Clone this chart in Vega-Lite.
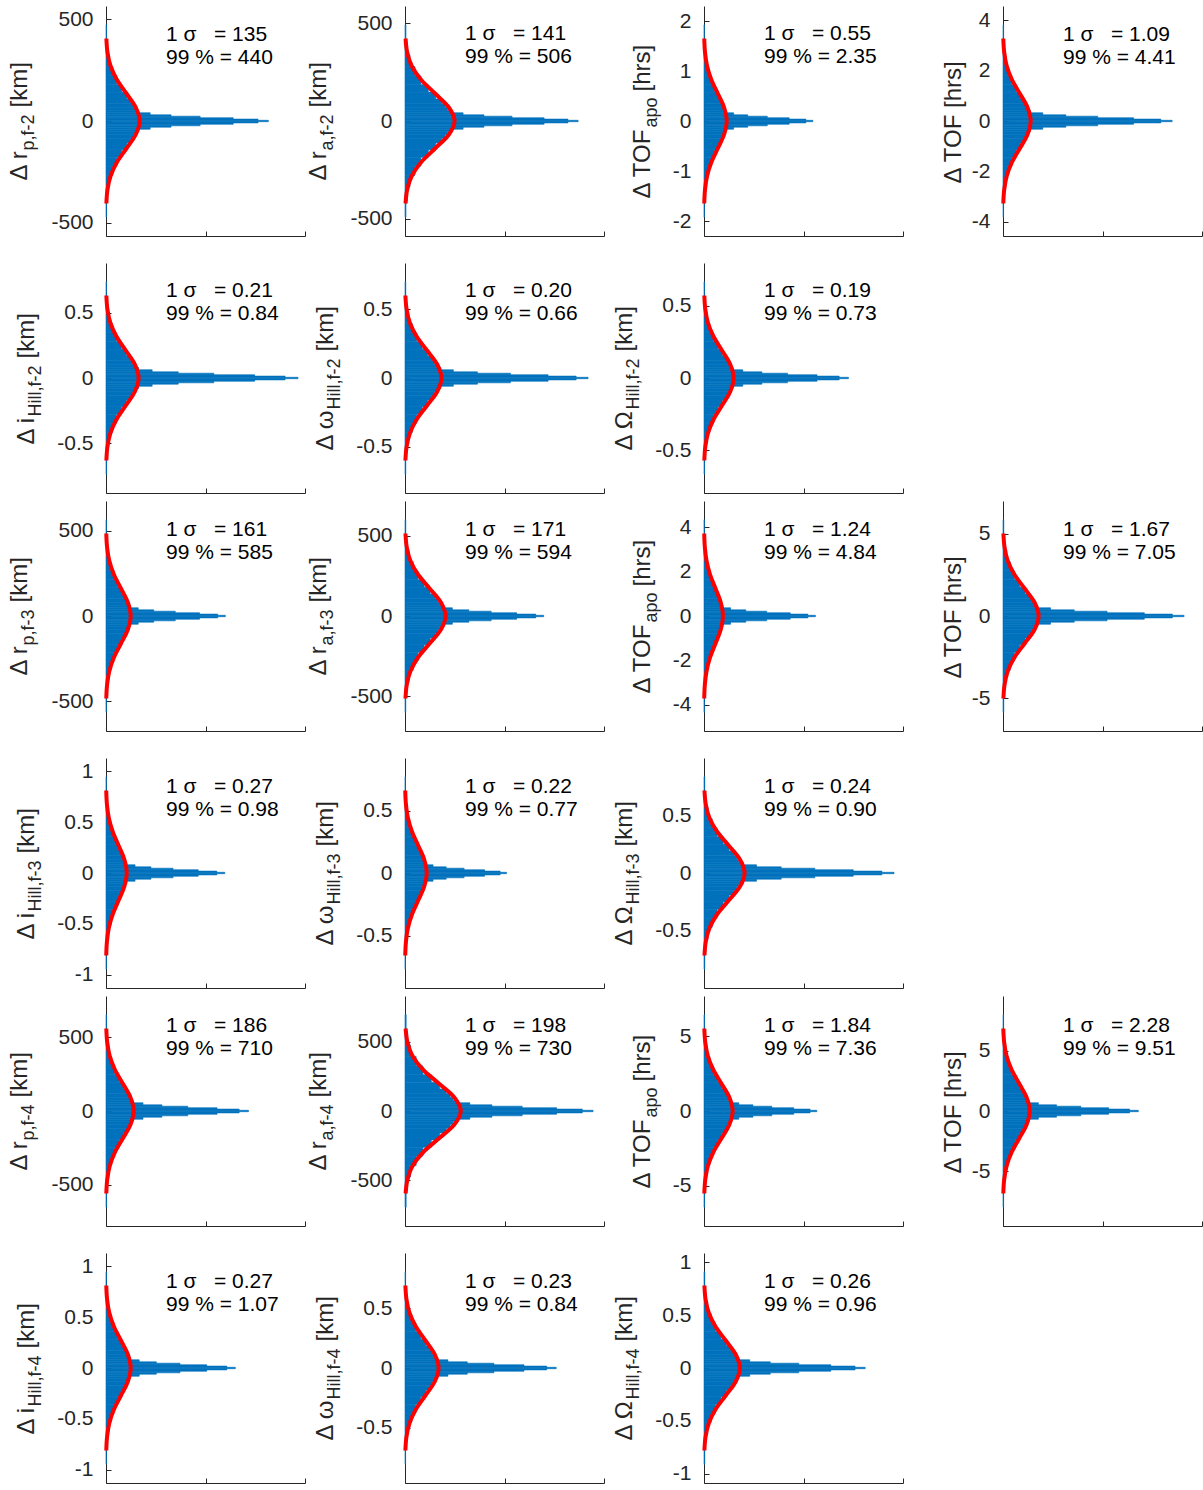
{
"$schema": "https://vega.github.io/schema/vega-lite/v6.json",
"padding": {"left": 6, "top": 6, "right": 0, "bottom": 0},
"bounds": "flush",
"columns": 4,
"spacing": {"row": 8, "column": 100},
"concat": [
{"width": 199, "height": 230, "title": {"text": ["1 σ\u00a0\u00a0\u00a0= 135", "99 % = 440"], "offset": -62},
 "layer": [
  {"data": {"name": "h"}, "transform": [{"filter": "datum.p==1"}], "mark": {"type": "bar", "orient": "horizontal"},
   "encoding": {"x": {"field": "v", "type": "quantitative", "stack": null, "scale": {"domain": [0, 100], "nice": false}, "axis": null},
    "y": {"field": "y", "type": "quantitative", "scale": {"domain": [-540, 540], "nice": false, "zero": false}, "axis": {"values": [-500, 0, 500], "labelExpr": "toString(datum.value)", "title": "Δ r", "titleX": -80, "titleY": 174}}, "y2": {"field": "y2"}}},
  {"data": {"name": "g"}, "transform": [{"filter": "datum.p==1"}], "mark": "line",
   "encoding": {"x": {"field": "v", "type": "quantitative", "scale": {"domain": [0, 100], "nice": false}, "axis": {"title": "[km]", "titleX": -80, "titleY": -129}},
    "y": {"field": "y", "type": "quantitative", "scale": {"domain": [-540, 540], "nice": false, "zero": false}, "axis": {"orient": "right", "title": "p,f-2", "titleX": -272, "titleY": 144}},
    "order": {"field": "y", "type": "quantitative"}}}],
 "resolve": {"axis": {"x": "independent", "y": "independent"}}},
{"width": 199, "height": 230, "title": {"text": ["1 σ\u00a0\u00a0\u00a0= 141", "99 % = 506"], "offset": -61},
 "layer": [
  {"data": {"name": "h"}, "transform": [{"filter": "datum.p==2"}], "mark": {"type": "bar", "orient": "horizontal"},
   "encoding": {"x": {"field": "v", "type": "quantitative", "stack": null, "scale": {"domain": [0, 100], "nice": false}, "axis": null},
    "y": {"field": "y", "type": "quantitative", "scale": {"domain": [-564, 564], "nice": false, "zero": false}, "axis": {"values": [-500, 0, 500], "labelExpr": "toString(datum.value)", "title": "Δ r", "titleX": -80, "titleY": 174}}, "y2": {"field": "y2"}}},
  {"data": {"name": "g"}, "transform": [{"filter": "datum.p==2"}], "mark": "line",
   "encoding": {"x": {"field": "v", "type": "quantitative", "scale": {"domain": [0, 100], "nice": false}, "axis": {"title": "[km]", "titleX": -80, "titleY": -129}},
    "y": {"field": "y", "type": "quantitative", "scale": {"domain": [-564, 564], "nice": false, "zero": false}, "axis": {"orient": "right", "title": "a,f-2", "titleX": -272, "titleY": 144}},
    "order": {"field": "y", "type": "quantitative"}}}],
 "resolve": {"axis": {"x": "independent", "y": "independent"}}},
{"width": 199, "height": 230, "title": {"text": ["1 σ\u00a0\u00a0\u00a0= 0.55", "99 % = 2.35"], "offset": -61},
 "layer": [
  {"data": {"name": "h"}, "transform": [{"filter": "datum.p==3"}], "mark": {"type": "bar", "orient": "horizontal"},
   "encoding": {"x": {"field": "v", "type": "quantitative", "stack": null, "scale": {"domain": [0, 100], "nice": false}, "axis": null},
    "y": {"field": "y", "type": "quantitative", "scale": {"domain": [-2.2, 2.2], "nice": false, "zero": false}, "axis": {"values": [-2, -1, 0, 1, 2], "labelExpr": "toString(datum.value)", "title": "Δ TOF", "titleX": -55, "titleY": 192}}, "y2": {"field": "y2"}}},
  {"data": {"name": "g"}, "transform": [{"filter": "datum.p==3"}], "mark": "line",
   "encoding": {"x": {"field": "v", "type": "quantitative", "scale": {"domain": [0, 100], "nice": false}, "axis": {"title": "[hrs]", "titleX": -55, "titleY": -145}},
    "y": {"field": "y", "type": "quantitative", "scale": {"domain": [-2.2, 2.2], "nice": false, "zero": false}, "axis": {"orient": "right", "title": "apo", "titleX": -247, "titleY": 121}},
    "order": {"field": "y", "type": "quantitative"}}}],
 "resolve": {"axis": {"x": "independent", "y": "independent"}}},
{"width": 199, "height": 230, "title": {"text": ["1 σ\u00a0\u00a0\u00a0= 1.09", "99 % = 4.41"], "offset": -62},
 "layer": [
  {"data": {"name": "h"}, "transform": [{"filter": "datum.p==4"}], "mark": {"type": "bar", "orient": "horizontal"},
   "encoding": {"x": {"field": "v", "type": "quantitative", "stack": null, "scale": {"domain": [0, 100], "nice": false}, "axis": null},
    "y": {"field": "y", "type": "quantitative", "scale": {"domain": [-4.36, 4.36], "nice": false, "zero": false}, "axis": {"values": [-4, -2, 0, 2, 4], "labelExpr": "toString(datum.value)", "title": "Δ TOF [hrs]", "titleX": -43, "titleY": 177}}, "y2": {"field": "y2"}}},
  {"data": {"name": "g"}, "transform": [{"filter": "datum.p==4"}], "mark": "line",
   "encoding": {"x": {"field": "v", "type": "quantitative", "scale": {"domain": [0, 100], "nice": false}, "axis": {"title": null}},
    "y": {"field": "y", "type": "quantitative", "scale": {"domain": [-4.36, 4.36], "nice": false, "zero": false}, "axis": {"orient": "right", "title": null}},
    "order": {"field": "y", "type": "quantitative"}}}],
 "resolve": {"axis": {"x": "independent", "y": "independent"}}},

{"width": 199, "height": 249, "title": {"text": ["1 σ\u00a0\u00a0\u00a0= 0.21", "99 % = 0.84"], "offset": -80},
 "layer": [
  {"data": {"name": "h"}, "transform": [{"filter": "datum.p==5"}], "mark": {"type": "bar", "orient": "horizontal"},
   "encoding": {"x": {"field": "v", "type": "quantitative", "stack": null, "scale": {"domain": [0, 100], "nice": false}, "axis": null},
    "y": {"field": "y", "type": "quantitative", "scale": {"domain": [-0.84, 0.84], "range": [249, 19], "nice": false, "zero": false}, "axis": {"values": [-0.5, 0, 0.5], "labelExpr": "toString(datum.value)", "title": "Δ i", "titleX": -73, "titleY": 200}}, "y2": {"field": "y2"}}},
  {"data": {"name": "g"}, "transform": [{"filter": "datum.p==5"}], "mark": "line",
   "encoding": {"x": {"field": "v", "type": "quantitative", "scale": {"domain": [0, 100], "nice": false}, "axis": {"title": "[km]", "titleX": -73, "titleY": -135}},
    "y": {"field": "y", "type": "quantitative", "scale": {"domain": [-0.84, 0.84], "range": [249, 19], "nice": false, "zero": false}, "axis": {"orient": "right", "title": "Hill,f-2", "titleX": -265, "titleY": 172}},
    "order": {"field": "y", "type": "quantitative"}}}],
 "resolve": {"axis": {"x": "independent", "y": "independent"}}},
{"width": 199, "height": 249, "title": {"text": ["1 σ\u00a0\u00a0\u00a0= 0.20", "99 % = 0.66"], "offset": -80},
 "layer": [
  {"data": {"name": "h"}, "transform": [{"filter": "datum.p==6"}], "mark": {"type": "bar", "orient": "horizontal"},
   "encoding": {"x": {"field": "v", "type": "quantitative", "stack": null, "scale": {"domain": [0, 100], "nice": false}, "axis": null},
    "y": {"field": "y", "type": "quantitative", "scale": {"domain": [-0.8, 0.8], "range": [249, 19], "nice": false, "zero": false}, "axis": {"values": [-0.5, 0, 0.5], "labelExpr": "toString(datum.value)", "title": "Δ ω", "titleX": -73, "titleY": 206}}, "y2": {"field": "y2"}}},
  {"data": {"name": "g"}, "transform": [{"filter": "datum.p==6"}], "mark": "line",
   "encoding": {"x": {"field": "v", "type": "quantitative", "scale": {"domain": [0, 100], "nice": false}, "axis": {"title": "[km]", "titleX": -73, "titleY": -142}},
    "y": {"field": "y", "type": "quantitative", "scale": {"domain": [-0.8, 0.8], "range": [249, 19], "nice": false, "zero": false}, "axis": {"orient": "right", "title": "Hill,f-2", "titleX": -265, "titleY": 165}},
    "order": {"field": "y", "type": "quantitative"}}}],
 "resolve": {"axis": {"x": "independent", "y": "independent"}}},
{"width": 199, "height": 249, "title": {"text": ["1 σ\u00a0\u00a0\u00a0= 0.19", "99 % = 0.73"], "offset": -80},
 "layer": [
  {"data": {"name": "h"}, "transform": [{"filter": "datum.p==7"}], "mark": {"type": "bar", "orient": "horizontal"},
   "encoding": {"x": {"field": "v", "type": "quantitative", "stack": null, "scale": {"domain": [0, 100], "nice": false}, "axis": null},
    "y": {"field": "y", "type": "quantitative", "scale": {"domain": [-0.76, 0.76], "range": [249, 19], "nice": false, "zero": false}, "axis": {"values": [-0.5, 0, 0.5], "labelExpr": "toString(datum.value)", "title": "Δ Ω", "titleX": -73, "titleY": 206}}, "y2": {"field": "y2"}}},
  {"data": {"name": "g"}, "transform": [{"filter": "datum.p==7"}], "mark": "line",
   "encoding": {"x": {"field": "v", "type": "quantitative", "scale": {"domain": [0, 100], "nice": false}, "axis": {"title": "[km]", "titleX": -73, "titleY": -142}},
    "y": {"field": "y", "type": "quantitative", "scale": {"domain": [-0.76, 0.76], "range": [249, 19], "nice": false, "zero": false}, "axis": {"orient": "right", "title": "Hill,f-2", "titleX": -265, "titleY": 165}},
    "order": {"field": "y", "type": "quantitative"}}}],
 "resolve": {"axis": {"x": "independent", "y": "independent"}}},
{"width": 199, "height": 249, "data": {"values": []}, "mark": {"type": "point", "opacity": 0}},

{"width": 199, "height": 230, "title": {"text": ["1 σ\u00a0\u00a0\u00a0= 161", "99 % = 585"], "offset": -62},
 "layer": [
  {"data": {"name": "h"}, "transform": [{"filter": "datum.p==8"}], "mark": {"type": "bar", "orient": "horizontal"},
   "encoding": {"x": {"field": "v", "type": "quantitative", "stack": null, "scale": {"domain": [0, 100], "nice": false}, "axis": null},
    "y": {"field": "y", "type": "quantitative", "scale": {"domain": [-644, 644], "nice": false, "zero": false}, "axis": {"values": [-500, 0, 500], "labelExpr": "toString(datum.value)", "title": "Δ r", "titleX": -80, "titleY": 174}}, "y2": {"field": "y2"}}},
  {"data": {"name": "g"}, "transform": [{"filter": "datum.p==8"}], "mark": "line",
   "encoding": {"x": {"field": "v", "type": "quantitative", "scale": {"domain": [0, 100], "nice": false}, "axis": {"title": "[km]", "titleX": -80, "titleY": -129}},
    "y": {"field": "y", "type": "quantitative", "scale": {"domain": [-644, 644], "nice": false, "zero": false}, "axis": {"orient": "right", "title": "p,f-3", "titleX": -272, "titleY": 144}},
    "order": {"field": "y", "type": "quantitative"}}}],
 "resolve": {"axis": {"x": "independent", "y": "independent"}}},
{"width": 199, "height": 230, "title": {"text": ["1 σ\u00a0\u00a0\u00a0= 171", "99 % = 594"], "offset": -62},
 "layer": [
  {"data": {"name": "h"}, "transform": [{"filter": "datum.p==9"}], "mark": {"type": "bar", "orient": "horizontal"},
   "encoding": {"x": {"field": "v", "type": "quantitative", "stack": null, "scale": {"domain": [0, 100], "nice": false}, "axis": null},
    "y": {"field": "y", "type": "quantitative", "scale": {"domain": [-684, 684], "nice": false, "zero": false}, "axis": {"values": [-500, 0, 500], "labelExpr": "toString(datum.value)", "title": "Δ r", "titleX": -80, "titleY": 174}}, "y2": {"field": "y2"}}},
  {"data": {"name": "g"}, "transform": [{"filter": "datum.p==9"}], "mark": "line",
   "encoding": {"x": {"field": "v", "type": "quantitative", "scale": {"domain": [0, 100], "nice": false}, "axis": {"title": "[km]", "titleX": -80, "titleY": -129}},
    "y": {"field": "y", "type": "quantitative", "scale": {"domain": [-684, 684], "nice": false, "zero": false}, "axis": {"orient": "right", "title": "a,f-3", "titleX": -272, "titleY": 144}},
    "order": {"field": "y", "type": "quantitative"}}}],
 "resolve": {"axis": {"x": "independent", "y": "independent"}}},
{"width": 199, "height": 230, "title": {"text": ["1 σ\u00a0\u00a0\u00a0= 1.24", "99 % = 4.84"], "offset": -62},
 "layer": [
  {"data": {"name": "h"}, "transform": [{"filter": "datum.p==10"}], "mark": {"type": "bar", "orient": "horizontal"},
   "encoding": {"x": {"field": "v", "type": "quantitative", "stack": null, "scale": {"domain": [0, 100], "nice": false}, "axis": null},
    "y": {"field": "y", "type": "quantitative", "scale": {"domain": [-4.96, 4.96], "nice": false, "zero": false}, "axis": {"values": [-4, -2, 0, 2, 4], "labelExpr": "toString(datum.value)", "title": "Δ TOF", "titleX": -55, "titleY": 192}}, "y2": {"field": "y2"}}},
  {"data": {"name": "g"}, "transform": [{"filter": "datum.p==10"}], "mark": "line",
   "encoding": {"x": {"field": "v", "type": "quantitative", "scale": {"domain": [0, 100], "nice": false}, "axis": {"title": "[hrs]", "titleX": -55, "titleY": -145}},
    "y": {"field": "y", "type": "quantitative", "scale": {"domain": [-4.96, 4.96], "nice": false, "zero": false}, "axis": {"orient": "right", "title": "apo", "titleX": -247, "titleY": 121}},
    "order": {"field": "y", "type": "quantitative"}}}],
 "resolve": {"axis": {"x": "independent", "y": "independent"}}},
{"width": 199, "height": 230, "title": {"text": ["1 σ\u00a0\u00a0\u00a0= 1.67", "99 % = 7.05"], "offset": -62},
 "layer": [
  {"data": {"name": "h"}, "transform": [{"filter": "datum.p==11"}], "mark": {"type": "bar", "orient": "horizontal"},
   "encoding": {"x": {"field": "v", "type": "quantitative", "stack": null, "scale": {"domain": [0, 100], "nice": false}, "axis": null},
    "y": {"field": "y", "type": "quantitative", "scale": {"domain": [-6.68, 6.68], "nice": false, "zero": false}, "axis": {"values": [-5, 0, 5], "labelExpr": "toString(datum.value)", "title": "Δ TOF [hrs]", "titleX": -43, "titleY": 177}}, "y2": {"field": "y2"}}},
  {"data": {"name": "g"}, "transform": [{"filter": "datum.p==11"}], "mark": "line",
   "encoding": {"x": {"field": "v", "type": "quantitative", "scale": {"domain": [0, 100], "nice": false}, "axis": {"title": null}},
    "y": {"field": "y", "type": "quantitative", "scale": {"domain": [-6.68, 6.68], "nice": false, "zero": false}, "axis": {"orient": "right", "title": null}},
    "order": {"field": "y", "type": "quantitative"}}}],
 "resolve": {"axis": {"x": "independent", "y": "independent"}}},

{"width": 199, "height": 249, "title": {"text": ["1 σ\u00a0\u00a0\u00a0= 0.27", "99 % = 0.98"], "offset": -81},
 "layer": [
  {"data": {"name": "h"}, "transform": [{"filter": "datum.p==12"}], "mark": {"type": "bar", "orient": "horizontal"},
   "encoding": {"x": {"field": "v", "type": "quantitative", "stack": null, "scale": {"domain": [0, 100], "nice": false}, "axis": null},
    "y": {"field": "y", "type": "quantitative", "scale": {"domain": [-1.08, 1.08], "range": [249, 19], "nice": false, "zero": false}, "axis": {"values": [-1, -0.5, 0, 0.5, 1], "labelExpr": "toString(datum.value)", "title": "Δ i", "titleX": -73, "titleY": 200}}, "y2": {"field": "y2"}}},
  {"data": {"name": "g"}, "transform": [{"filter": "datum.p==12"}], "mark": "line",
   "encoding": {"x": {"field": "v", "type": "quantitative", "scale": {"domain": [0, 100], "nice": false}, "axis": {"title": "[km]", "titleX": -73, "titleY": -135}},
    "y": {"field": "y", "type": "quantitative", "scale": {"domain": [-1.08, 1.08], "range": [249, 19], "nice": false, "zero": false}, "axis": {"orient": "right", "title": "Hill,f-3", "titleX": -265, "titleY": 172}},
    "order": {"field": "y", "type": "quantitative"}}}],
 "resolve": {"axis": {"x": "independent", "y": "independent"}}},
{"width": 199, "height": 249, "title": {"text": ["1 σ\u00a0\u00a0\u00a0= 0.22", "99 % = 0.77"], "offset": -81},
 "layer": [
  {"data": {"name": "h"}, "transform": [{"filter": "datum.p==13"}], "mark": {"type": "bar", "orient": "horizontal"},
   "encoding": {"x": {"field": "v", "type": "quantitative", "stack": null, "scale": {"domain": [0, 100], "nice": false}, "axis": null},
    "y": {"field": "y", "type": "quantitative", "scale": {"domain": [-0.88, 0.88], "range": [249, 19], "nice": false, "zero": false}, "axis": {"values": [-0.5, 0, 0.5], "labelExpr": "toString(datum.value)", "title": "Δ ω", "titleX": -73, "titleY": 206}}, "y2": {"field": "y2"}}},
  {"data": {"name": "g"}, "transform": [{"filter": "datum.p==13"}], "mark": "line",
   "encoding": {"x": {"field": "v", "type": "quantitative", "scale": {"domain": [0, 100], "nice": false}, "axis": {"title": "[km]", "titleX": -73, "titleY": -142}},
    "y": {"field": "y", "type": "quantitative", "scale": {"domain": [-0.88, 0.88], "range": [249, 19], "nice": false, "zero": false}, "axis": {"orient": "right", "title": "Hill,f-3", "titleX": -265, "titleY": 165}},
    "order": {"field": "y", "type": "quantitative"}}}],
 "resolve": {"axis": {"x": "independent", "y": "independent"}}},
{"width": 199, "height": 249, "title": {"text": ["1 σ\u00a0\u00a0\u00a0= 0.24", "99 % = 0.90"], "offset": -81},
 "layer": [
  {"data": {"name": "h"}, "transform": [{"filter": "datum.p==14"}], "mark": {"type": "bar", "orient": "horizontal"},
   "encoding": {"x": {"field": "v", "type": "quantitative", "stack": null, "scale": {"domain": [0, 100], "nice": false}, "axis": null},
    "y": {"field": "y", "type": "quantitative", "scale": {"domain": [-0.96, 0.96], "range": [249, 19], "nice": false, "zero": false}, "axis": {"values": [-0.5, 0, 0.5], "labelExpr": "toString(datum.value)", "title": "Δ Ω", "titleX": -73, "titleY": 206}}, "y2": {"field": "y2"}}},
  {"data": {"name": "g"}, "transform": [{"filter": "datum.p==14"}], "mark": "line",
   "encoding": {"x": {"field": "v", "type": "quantitative", "scale": {"domain": [0, 100], "nice": false}, "axis": {"title": "[km]", "titleX": -73, "titleY": -142}},
    "y": {"field": "y", "type": "quantitative", "scale": {"domain": [-0.96, 0.96], "range": [249, 19], "nice": false, "zero": false}, "axis": {"orient": "right", "title": "Hill,f-3", "titleX": -265, "titleY": 165}},
    "order": {"field": "y", "type": "quantitative"}}}],
 "resolve": {"axis": {"x": "independent", "y": "independent"}}},
{"width": 199, "height": 249, "data": {"values": []}, "mark": {"type": "point", "opacity": 0}},

{"width": 199, "height": 230, "title": {"text": ["1 σ\u00a0\u00a0\u00a0= 186", "99 % = 710"], "offset": -63},
 "layer": [
  {"data": {"name": "h"}, "transform": [{"filter": "datum.p==15"}], "mark": {"type": "bar", "orient": "horizontal"},
   "encoding": {"x": {"field": "v", "type": "quantitative", "stack": null, "scale": {"domain": [0, 100], "nice": false}, "axis": null},
    "y": {"field": "y", "type": "quantitative", "scale": {"domain": [-744, 744], "nice": false, "zero": false}, "axis": {"values": [-500, 0, 500], "labelExpr": "toString(datum.value)", "title": "Δ r", "titleX": -80, "titleY": 174}}, "y2": {"field": "y2"}}},
  {"data": {"name": "g"}, "transform": [{"filter": "datum.p==15"}], "mark": "line",
   "encoding": {"x": {"field": "v", "type": "quantitative", "scale": {"domain": [0, 100], "nice": false}, "axis": {"title": "[km]", "titleX": -80, "titleY": -129}},
    "y": {"field": "y", "type": "quantitative", "scale": {"domain": [-744, 744], "nice": false, "zero": false}, "axis": {"orient": "right", "title": "p,f-4", "titleX": -272, "titleY": 144}},
    "order": {"field": "y", "type": "quantitative"}}}],
 "resolve": {"axis": {"x": "independent", "y": "independent"}}},
{"width": 199, "height": 230, "title": {"text": ["1 σ\u00a0\u00a0\u00a0= 198", "99 % = 730"], "offset": -63},
 "layer": [
  {"data": {"name": "h"}, "transform": [{"filter": "datum.p==16"}], "mark": {"type": "bar", "orient": "horizontal"},
   "encoding": {"x": {"field": "v", "type": "quantitative", "stack": null, "scale": {"domain": [0, 100], "nice": false}, "axis": null},
    "y": {"field": "y", "type": "quantitative", "scale": {"domain": [-792, 792], "nice": false, "zero": false}, "axis": {"values": [-500, 0, 500], "labelExpr": "toString(datum.value)", "title": "Δ r", "titleX": -80, "titleY": 174}}, "y2": {"field": "y2"}}},
  {"data": {"name": "g"}, "transform": [{"filter": "datum.p==16"}], "mark": "line",
   "encoding": {"x": {"field": "v", "type": "quantitative", "scale": {"domain": [0, 100], "nice": false}, "axis": {"title": "[km]", "titleX": -80, "titleY": -129}},
    "y": {"field": "y", "type": "quantitative", "scale": {"domain": [-792, 792], "nice": false, "zero": false}, "axis": {"orient": "right", "title": "a,f-4", "titleX": -272, "titleY": 144}},
    "order": {"field": "y", "type": "quantitative"}}}],
 "resolve": {"axis": {"x": "independent", "y": "independent"}}},
{"width": 199, "height": 230, "title": {"text": ["1 σ\u00a0\u00a0\u00a0= 1.84", "99 % = 7.36"], "offset": -63},
 "layer": [
  {"data": {"name": "h"}, "transform": [{"filter": "datum.p==17"}], "mark": {"type": "bar", "orient": "horizontal"},
   "encoding": {"x": {"field": "v", "type": "quantitative", "stack": null, "scale": {"domain": [0, 100], "nice": false}, "axis": null},
    "y": {"field": "y", "type": "quantitative", "scale": {"domain": [-7.36, 7.36], "nice": false, "zero": false}, "axis": {"values": [-5, 0, 5], "labelExpr": "toString(datum.value)", "title": "Δ TOF", "titleX": -55, "titleY": 192}}, "y2": {"field": "y2"}}},
  {"data": {"name": "g"}, "transform": [{"filter": "datum.p==17"}], "mark": "line",
   "encoding": {"x": {"field": "v", "type": "quantitative", "scale": {"domain": [0, 100], "nice": false}, "axis": {"title": "[hrs]", "titleX": -55, "titleY": -145}},
    "y": {"field": "y", "type": "quantitative", "scale": {"domain": [-7.36, 7.36], "nice": false, "zero": false}, "axis": {"orient": "right", "title": "apo", "titleX": -247, "titleY": 121}},
    "order": {"field": "y", "type": "quantitative"}}}],
 "resolve": {"axis": {"x": "independent", "y": "independent"}}},
{"width": 199, "height": 230, "title": {"text": ["1 σ\u00a0\u00a0\u00a0= 2.28", "99 % = 9.51"], "offset": -63},
 "layer": [
  {"data": {"name": "h"}, "transform": [{"filter": "datum.p==18"}], "mark": {"type": "bar", "orient": "horizontal"},
   "encoding": {"x": {"field": "v", "type": "quantitative", "stack": null, "scale": {"domain": [0, 100], "nice": false}, "axis": null},
    "y": {"field": "y", "type": "quantitative", "scale": {"domain": [-9.12, 9.12], "nice": false, "zero": false}, "axis": {"values": [-5, 0, 5], "labelExpr": "toString(datum.value)", "title": "Δ TOF [hrs]", "titleX": -43, "titleY": 177}}, "y2": {"field": "y2"}}},
  {"data": {"name": "g"}, "transform": [{"filter": "datum.p==18"}], "mark": "line",
   "encoding": {"x": {"field": "v", "type": "quantitative", "scale": {"domain": [0, 100], "nice": false}, "axis": {"title": null}},
    "y": {"field": "y", "type": "quantitative", "scale": {"domain": [-9.12, 9.12], "nice": false, "zero": false}, "axis": {"orient": "right", "title": null}},
    "order": {"field": "y", "type": "quantitative"}}}],
 "resolve": {"axis": {"x": "independent", "y": "independent"}}},

{"width": 199, "height": 249, "title": {"text": ["1 σ\u00a0\u00a0\u00a0= 0.27", "99 % = 1.07"], "offset": -81},
 "layer": [
  {"data": {"name": "h"}, "transform": [{"filter": "datum.p==19"}], "mark": {"type": "bar", "orient": "horizontal"},
   "encoding": {"x": {"field": "v", "type": "quantitative", "stack": null, "scale": {"domain": [0, 100], "nice": false}, "axis": null},
    "y": {"field": "y", "type": "quantitative", "scale": {"domain": [-1.08, 1.08], "range": [249, 19], "nice": false, "zero": false}, "axis": {"values": [-1, -0.5, 0, 0.5, 1], "labelExpr": "toString(datum.value)", "title": "Δ i", "titleX": -73, "titleY": 200}}, "y2": {"field": "y2"}}},
  {"data": {"name": "g"}, "transform": [{"filter": "datum.p==19"}], "mark": "line",
   "encoding": {"x": {"field": "v", "type": "quantitative", "scale": {"domain": [0, 100], "nice": false}, "axis": {"title": "[km]", "titleX": -73, "titleY": -135}},
    "y": {"field": "y", "type": "quantitative", "scale": {"domain": [-1.08, 1.08], "range": [249, 19], "nice": false, "zero": false}, "axis": {"orient": "right", "title": "Hill,f-4", "titleX": -265, "titleY": 172}},
    "order": {"field": "y", "type": "quantitative"}}}],
 "resolve": {"axis": {"x": "independent", "y": "independent"}}},
{"width": 199, "height": 249, "title": {"text": ["1 σ\u00a0\u00a0\u00a0= 0.23", "99 % = 0.84"], "offset": -81},
 "layer": [
  {"data": {"name": "h"}, "transform": [{"filter": "datum.p==20"}], "mark": {"type": "bar", "orient": "horizontal"},
   "encoding": {"x": {"field": "v", "type": "quantitative", "stack": null, "scale": {"domain": [0, 100], "nice": false}, "axis": null},
    "y": {"field": "y", "type": "quantitative", "scale": {"domain": [-0.92, 0.92], "range": [249, 19], "nice": false, "zero": false}, "axis": {"values": [-0.5, 0, 0.5], "labelExpr": "toString(datum.value)", "title": "Δ ω", "titleX": -73, "titleY": 206}}, "y2": {"field": "y2"}}},
  {"data": {"name": "g"}, "transform": [{"filter": "datum.p==20"}], "mark": "line",
   "encoding": {"x": {"field": "v", "type": "quantitative", "scale": {"domain": [0, 100], "nice": false}, "axis": {"title": "[km]", "titleX": -73, "titleY": -142}},
    "y": {"field": "y", "type": "quantitative", "scale": {"domain": [-0.92, 0.92], "range": [249, 19], "nice": false, "zero": false}, "axis": {"orient": "right", "title": "Hill,f-4", "titleX": -265, "titleY": 165}},
    "order": {"field": "y", "type": "quantitative"}}}],
 "resolve": {"axis": {"x": "independent", "y": "independent"}}},
{"width": 199, "height": 249, "title": {"text": ["1 σ\u00a0\u00a0\u00a0= 0.26", "99 % = 0.96"], "offset": -81},
 "layer": [
  {"data": {"name": "h"}, "transform": [{"filter": "datum.p==21"}], "mark": {"type": "bar", "orient": "horizontal"},
   "encoding": {"x": {"field": "v", "type": "quantitative", "stack": null, "scale": {"domain": [0, 100], "nice": false}, "axis": null},
    "y": {"field": "y", "type": "quantitative", "scale": {"domain": [-1.04, 1.04], "range": [249, 19], "nice": false, "zero": false}, "axis": {"values": [-1, -0.5, 0, 0.5, 1], "labelExpr": "toString(datum.value)", "title": "Δ Ω", "titleX": -73, "titleY": 206}}, "y2": {"field": "y2"}}},
  {"data": {"name": "g"}, "transform": [{"filter": "datum.p==21"}], "mark": "line",
   "encoding": {"x": {"field": "v", "type": "quantitative", "scale": {"domain": [0, 100], "nice": false}, "axis": {"title": "[km]", "titleX": -73, "titleY": -142}},
    "y": {"field": "y", "type": "quantitative", "scale": {"domain": [-1.04, 1.04], "range": [249, 19], "nice": false, "zero": false}, "axis": {"orient": "right", "title": "Hill,f-4", "titleX": -265, "titleY": 165}},
    "order": {"field": "y", "type": "quantitative"}}}],
 "resolve": {"axis": {"x": "independent", "y": "independent"}}},
{"width": 199, "height": 249, "data": {"values": []}, "mark": {"type": "point", "opacity": 0}}
],
"datasets": {
"h": [
{"p":1,"y":-3.51,"y2":3.51,"v":81.6},
{"p":1,"y":3.51,"y2":9.45,"v":76.4},{"p":1,"y":-9.45,"y2":-3.51,"v":76.4},
{"p":1,"y":9.45,"y2":16.2,"v":63.9},{"p":1,"y":-16.2,"y2":-9.45,"v":63.9},
{"p":1,"y":16.2,"y2":23.6,"v":47.3},{"p":1,"y":-23.6,"y2":-16.2,"v":47.3},
{"p":1,"y":23.6,"y2":30.4,"v":32.7},{"p":1,"y":-30.4,"y2":-23.6,"v":32.7},
{"p":1,"y":30.4,"y2":40.5,"v":22.2},{"p":1,"y":-40.5,"y2":-30.4,"v":22.2},
{"p":1,"y":40.5,"y2":51.3,"v":16.5},{"p":1,"y":-51.3,"y2":-40.5,"v":16.5},
{"p":1,"y":51.3,"y2":66.2,"v":14.5},{"p":1,"y":-66.2,"y2":-51.3,"v":14.5},
{"p":1,"y":66.2,"y2":85.1,"v":13.7},{"p":1,"y":-85.1,"y2":-66.2,"v":13.7},
{"p":1,"y":85.1,"y2":108,"v":12.5},{"p":1,"y":-108,"y2":-85.1,"v":12.5},
{"p":1,"y":108,"y2":141.8,"v":10.5},{"p":1,"y":-141.8,"y2":-108,"v":10.5},
{"p":1,"y":141.8,"y2":178.2,"v":7.9},{"p":1,"y":-178.2,"y2":-141.8,"v":7.9},
{"p":1,"y":178.2,"y2":221.4,"v":5.4},{"p":1,"y":-221.4,"y2":-178.2,"v":5.4},
{"p":1,"y":221.4,"y2":267.3,"v":3.4},{"p":1,"y":-267.3,"y2":-221.4,"v":3.4},
{"p":1,"y":267.3,"y2":324,"v":1.7},{"p":1,"y":-324,"y2":-267.3,"v":1.7},
{"p":1,"y":324,"y2":391.5,"v":0.8},{"p":1,"y":-391.5,"y2":-324,"v":0.8},
{"p":1,"y":391.5,"y2":472.5,"v":0.3},{"p":1,"y":-472.5,"y2":-391.5,"v":0.3},
{"p":2,"y":-3.67,"y2":3.67,"v":87},
{"p":2,"y":3.67,"y2":9.87,"v":81.9},{"p":2,"y":-9.87,"y2":-3.67,"v":81.9},
{"p":2,"y":9.87,"y2":16.9,"v":69.9},{"p":2,"y":-16.9,"y2":-9.87,"v":69.9},
{"p":2,"y":16.9,"y2":24.7,"v":53.8},{"p":2,"y":-24.7,"y2":-16.9,"v":53.8},
{"p":2,"y":24.7,"y2":31.7,"v":39.7},{"p":2,"y":-31.7,"y2":-24.7,"v":39.7},
{"p":2,"y":31.7,"y2":42.3,"v":29.2},{"p":2,"y":-42.3,"y2":-31.7,"v":29.2},
{"p":2,"y":42.3,"y2":53.6,"v":23.7},{"p":2,"y":-53.6,"y2":-42.3,"v":23.7},
{"p":2,"y":53.6,"y2":69.1,"v":21.4},{"p":2,"y":-69.1,"y2":-53.6,"v":21.4},
{"p":2,"y":69.1,"y2":88.8,"v":20.2},{"p":2,"y":-88.8,"y2":-69.1,"v":20.2},
{"p":2,"y":88.8,"y2":112.8,"v":18.4},{"p":2,"y":-112.8,"y2":-88.8,"v":18.4},
{"p":2,"y":112.8,"y2":148.1,"v":15.4},{"p":2,"y":-148.1,"y2":-112.8,"v":15.4},
{"p":2,"y":148.1,"y2":186.1,"v":11.7},{"p":2,"y":-186.1,"y2":-148.1,"v":11.7},
{"p":2,"y":186.1,"y2":231.2,"v":8.0},{"p":2,"y":-231.2,"y2":-186.1,"v":8.0},
{"p":2,"y":231.2,"y2":279.2,"v":5.0},{"p":2,"y":-279.2,"y2":-231.2,"v":5.0},
{"p":2,"y":279.2,"y2":338.4,"v":2.5},{"p":2,"y":-338.4,"y2":-279.2,"v":2.5},
{"p":2,"y":338.4,"y2":408.9,"v":1.1},{"p":2,"y":-408.9,"y2":-338.4,"v":1.1},
{"p":2,"y":408.9,"y2":493.5,"v":0.5},{"p":2,"y":-493.5,"y2":-408.9,"v":0.5},
{"p":3,"y":-0.0143,"y2":0.0143,"v":54.7},
{"p":3,"y":0.0143,"y2":0.0385,"v":51.2},{"p":3,"y":-0.0385,"y2":-0.0143,"v":51.2},
{"p":3,"y":0.0385,"y2":0.066,"v":42.8},{"p":3,"y":-0.066,"y2":-0.0385,"v":42.8},
{"p":3,"y":0.066,"y2":0.0963,"v":31.8},{"p":3,"y":-0.0963,"y2":-0.066,"v":31.8},
{"p":3,"y":0.0963,"y2":0.1238,"v":22.0},{"p":3,"y":-0.1238,"y2":-0.0963,"v":22.0},
{"p":3,"y":0.1238,"y2":0.165,"v":14.9},{"p":3,"y":-0.165,"y2":-0.1238,"v":14.9},
{"p":3,"y":0.165,"y2":0.209,"v":11.2},{"p":3,"y":-0.209,"y2":-0.165,"v":11.2},
{"p":3,"y":0.209,"y2":0.2695,"v":9.8},{"p":3,"y":-0.2695,"y2":-0.209,"v":9.8},
{"p":3,"y":0.2695,"y2":0.3465,"v":9.2},{"p":3,"y":-0.3465,"y2":-0.2695,"v":9.2},
{"p":3,"y":0.3465,"y2":0.44,"v":8.4},{"p":3,"y":-0.44,"y2":-0.3465,"v":8.4},
{"p":3,"y":0.44,"y2":0.5775,"v":7.1},{"p":3,"y":-0.5775,"y2":-0.44,"v":7.1},
{"p":3,"y":0.5775,"y2":0.726,"v":5.4},{"p":3,"y":-0.726,"y2":-0.5775,"v":5.4},
{"p":3,"y":0.726,"y2":0.902,"v":3.6},{"p":3,"y":-0.902,"y2":-0.726,"v":3.6},
{"p":3,"y":0.902,"y2":1.089,"v":2.3},{"p":3,"y":-1.089,"y2":-0.902,"v":2.3},
{"p":3,"y":1.089,"y2":1.32,"v":1.1},{"p":3,"y":-1.32,"y2":-1.089,"v":1.1},
{"p":3,"y":1.32,"y2":1.595,"v":0.5},{"p":3,"y":-1.595,"y2":-1.32,"v":0.5},
{"p":3,"y":1.595,"y2":1.925,"v":0.2},{"p":3,"y":-1.925,"y2":-1.595,"v":0.2},
{"p":4,"y":-0.0283,"y2":0.0283,"v":85},
{"p":4,"y":0.0283,"y2":0.0763,"v":79.3},{"p":4,"y":-0.0763,"y2":-0.0283,"v":79.3},
{"p":4,"y":0.0763,"y2":0.1308,"v":65.6},{"p":4,"y":-0.1308,"y2":-0.0763,"v":65.6},
{"p":4,"y":0.1308,"y2":0.1908,"v":47.6},{"p":4,"y":-0.1908,"y2":-0.1308,"v":47.6},
{"p":4,"y":0.1908,"y2":0.2453,"v":31.6},{"p":4,"y":-0.2453,"y2":-0.1908,"v":31.6},
{"p":4,"y":0.2453,"y2":0.327,"v":20.0},{"p":4,"y":-0.327,"y2":-0.2453,"v":20.0},
{"p":4,"y":0.327,"y2":0.4142,"v":13.9},{"p":4,"y":-0.4142,"y2":-0.327,"v":13.9},
{"p":4,"y":0.4142,"y2":0.5341,"v":12.0},{"p":4,"y":-0.5341,"y2":-0.4142,"v":12.0},
{"p":4,"y":0.5341,"y2":0.6867,"v":11.3},{"p":4,"y":-0.6867,"y2":-0.5341,"v":11.3},
{"p":4,"y":0.6867,"y2":0.872,"v":10.3},{"p":4,"y":-0.872,"y2":-0.6867,"v":10.3},
{"p":4,"y":0.872,"y2":1.1445,"v":8.6},{"p":4,"y":-1.1445,"y2":-0.872,"v":8.6},
{"p":4,"y":1.1445,"y2":1.4388,"v":6.5},{"p":4,"y":-1.4388,"y2":-1.1445,"v":6.5},
{"p":4,"y":1.4388,"y2":1.7876,"v":4.4},{"p":4,"y":-1.7876,"y2":-1.4388,"v":4.4},
{"p":4,"y":1.7876,"y2":2.1582,"v":2.8},{"p":4,"y":-2.1582,"y2":-1.7876,"v":2.8},
{"p":4,"y":2.1582,"y2":2.616,"v":1.4},{"p":4,"y":-2.616,"y2":-2.1582,"v":1.4},
{"p":4,"y":2.616,"y2":3.161,"v":0.6},{"p":4,"y":-3.161,"y2":-2.616,"v":0.6},
{"p":4,"y":3.161,"y2":3.815,"v":0.3},{"p":4,"y":-3.815,"y2":-3.161,"v":0.3},
{"p":5,"y":-0.00546,"y2":0.00546,"v":96.5},
{"p":5,"y":0.00546,"y2":0.0147,"v":90.0},{"p":5,"y":-0.0147,"y2":-0.00546,"v":90.0},
{"p":5,"y":0.0147,"y2":0.0252,"v":74.7},{"p":5,"y":-0.0252,"y2":-0.0147,"v":74.7},
{"p":5,"y":0.0252,"y2":0.03675,"v":54.2},{"p":5,"y":-0.03675,"y2":-0.0252,"v":54.2},
{"p":5,"y":0.03675,"y2":0.04725,"v":36.3},{"p":5,"y":-0.04725,"y2":-0.03675,"v":36.3},
{"p":5,"y":0.04725,"y2":0.063,"v":23.2},{"p":5,"y":-0.063,"y2":-0.04725,"v":23.2},
{"p":5,"y":0.063,"y2":0.0798,"v":16.4},{"p":5,"y":-0.0798,"y2":-0.063,"v":16.4},
{"p":5,"y":0.0798,"y2":0.1029,"v":14.1},{"p":5,"y":-0.1029,"y2":-0.0798,"v":14.1},
{"p":5,"y":0.1029,"y2":0.1323,"v":13.3},{"p":5,"y":-0.1323,"y2":-0.1029,"v":13.3},
{"p":5,"y":0.1323,"y2":0.168,"v":12.1},{"p":5,"y":-0.168,"y2":-0.1323,"v":12.1},
{"p":5,"y":0.168,"y2":0.2205,"v":10.2},{"p":5,"y":-0.2205,"y2":-0.168,"v":10.2},
{"p":5,"y":0.2205,"y2":0.2772,"v":7.7},{"p":5,"y":-0.2772,"y2":-0.2205,"v":7.7},
{"p":5,"y":0.2772,"y2":0.3444,"v":5.2},{"p":5,"y":-0.3444,"y2":-0.2772,"v":5.2},
{"p":5,"y":0.3444,"y2":0.4158,"v":3.3},{"p":5,"y":-0.4158,"y2":-0.3444,"v":3.3},
{"p":5,"y":0.4158,"y2":0.504,"v":1.6},{"p":5,"y":-0.504,"y2":-0.4158,"v":1.6},
{"p":5,"y":0.504,"y2":0.609,"v":0.7},{"p":5,"y":-0.609,"y2":-0.504,"v":0.7},
{"p":5,"y":0.609,"y2":0.735,"v":0.3},{"p":5,"y":-0.735,"y2":-0.609,"v":0.3},
{"p":6,"y":-0.0052,"y2":0.0052,"v":92},
{"p":6,"y":0.0052,"y2":0.014,"v":86.0},{"p":6,"y":-0.014,"y2":-0.0052,"v":86.0},
{"p":6,"y":0.014,"y2":0.024,"v":71.9},{"p":6,"y":-0.024,"y2":-0.014,"v":71.9},
{"p":6,"y":0.024,"y2":0.035,"v":53.0},{"p":6,"y":-0.035,"y2":-0.024,"v":53.0},
{"p":6,"y":0.035,"y2":0.045,"v":36.4},{"p":6,"y":-0.045,"y2":-0.035,"v":36.4},
{"p":6,"y":0.045,"y2":0.06,"v":24.3},{"p":6,"y":-0.06,"y2":-0.045,"v":24.3},
{"p":6,"y":0.06,"y2":0.076,"v":18.0},{"p":6,"y":-0.076,"y2":-0.06,"v":18.0},
{"p":6,"y":0.076,"y2":0.098,"v":15.7},{"p":6,"y":-0.098,"y2":-0.076,"v":15.7},
{"p":6,"y":0.098,"y2":0.126,"v":14.8},{"p":6,"y":-0.126,"y2":-0.098,"v":14.8},
{"p":6,"y":0.126,"y2":0.16,"v":13.5},{"p":6,"y":-0.16,"y2":-0.126,"v":13.5},
{"p":6,"y":0.16,"y2":0.21,"v":11.3},{"p":6,"y":-0.21,"y2":-0.16,"v":11.3},
{"p":6,"y":0.21,"y2":0.264,"v":8.6},{"p":6,"y":-0.264,"y2":-0.21,"v":8.6},
{"p":6,"y":0.264,"y2":0.328,"v":5.9},{"p":6,"y":-0.328,"y2":-0.264,"v":5.9},
{"p":6,"y":0.328,"y2":0.396,"v":3.7},{"p":6,"y":-0.396,"y2":-0.328,"v":3.7},
{"p":6,"y":0.396,"y2":0.48,"v":1.8},{"p":6,"y":-0.48,"y2":-0.396,"v":1.8},
{"p":6,"y":0.48,"y2":0.58,"v":0.8},{"p":6,"y":-0.58,"y2":-0.48,"v":0.8},
{"p":6,"y":0.58,"y2":0.7,"v":0.4},{"p":6,"y":-0.7,"y2":-0.58,"v":0.4},
{"p":7,"y":-0.00494,"y2":0.00494,"v":72.6},
{"p":7,"y":0.00494,"y2":0.0133,"v":67.9},{"p":7,"y":-0.0133,"y2":-0.00494,"v":67.9},
{"p":7,"y":0.0133,"y2":0.0228,"v":56.8},{"p":7,"y":-0.0228,"y2":-0.0133,"v":56.8},
{"p":7,"y":0.0228,"y2":0.03325,"v":42.0},{"p":7,"y":-0.03325,"y2":-0.0228,"v":42.0},
{"p":7,"y":0.03325,"y2":0.04275,"v":29.1},{"p":7,"y":-0.04275,"y2":-0.03325,"v":29.1},
{"p":7,"y":0.04275,"y2":0.057,"v":19.5},{"p":7,"y":-0.057,"y2":-0.04275,"v":19.5},
{"p":7,"y":0.057,"y2":0.0722,"v":14.6},{"p":7,"y":-0.0722,"y2":-0.057,"v":14.6},
{"p":7,"y":0.0722,"y2":0.0931,"v":12.8},{"p":7,"y":-0.0931,"y2":-0.0722,"v":12.8},
{"p":7,"y":0.0931,"y2":0.1197,"v":12.1},{"p":7,"y":-0.1197,"y2":-0.0931,"v":12.1},
{"p":7,"y":0.1197,"y2":0.152,"v":11.0},{"p":7,"y":-0.152,"y2":-0.1197,"v":11.0},
{"p":7,"y":0.152,"y2":0.1995,"v":9.2},{"p":7,"y":-0.1995,"y2":-0.152,"v":9.2},
{"p":7,"y":0.1995,"y2":0.2508,"v":7.0},{"p":7,"y":-0.2508,"y2":-0.1995,"v":7.0},
{"p":7,"y":0.2508,"y2":0.3116,"v":4.8},{"p":7,"y":-0.3116,"y2":-0.2508,"v":4.8},
{"p":7,"y":0.3116,"y2":0.3762,"v":3.0},{"p":7,"y":-0.3762,"y2":-0.3116,"v":3.0},
{"p":7,"y":0.3762,"y2":0.456,"v":1.5},{"p":7,"y":-0.456,"y2":-0.3762,"v":1.5},
{"p":7,"y":0.456,"y2":0.551,"v":0.7},{"p":7,"y":-0.551,"y2":-0.456,"v":0.7},
{"p":7,"y":0.551,"y2":0.665,"v":0.3},{"p":7,"y":-0.665,"y2":-0.551,"v":0.3},
{"p":8,"y":-4.19,"y2":4.19,"v":60},
{"p":8,"y":4.19,"y2":11.27,"v":56.1},{"p":8,"y":-11.27,"y2":-4.19,"v":56.1},
{"p":8,"y":11.27,"y2":19.32,"v":47.0},{"p":8,"y":-19.32,"y2":-11.27,"v":47.0},
{"p":8,"y":19.32,"y2":28.18,"v":34.8},{"p":8,"y":-28.18,"y2":-19.32,"v":34.8},
{"p":8,"y":28.18,"y2":36.23,"v":24.0},{"p":8,"y":-36.23,"y2":-28.18,"v":24.0},
{"p":8,"y":36.23,"y2":48.3,"v":16.2},{"p":8,"y":-48.3,"y2":-36.23,"v":16.2},
{"p":8,"y":48.3,"y2":61.18,"v":12.2},{"p":8,"y":-61.18,"y2":-48.3,"v":12.2},
{"p":8,"y":61.18,"y2":78.89,"v":10.7},{"p":8,"y":-78.89,"y2":-61.18,"v":10.7},
{"p":8,"y":78.89,"y2":101.4,"v":10.0},{"p":8,"y":-101.4,"y2":-78.89,"v":10.0},
{"p":8,"y":101.4,"y2":128.8,"v":9.2},{"p":8,"y":-128.8,"y2":-101.4,"v":9.2},
{"p":8,"y":128.8,"y2":169.1,"v":7.7},{"p":8,"y":-169.1,"y2":-128.8,"v":7.7},
{"p":8,"y":169.1,"y2":212.5,"v":5.8},{"p":8,"y":-212.5,"y2":-169.1,"v":5.8},
{"p":8,"y":212.5,"y2":264,"v":4.0},{"p":8,"y":-264,"y2":-212.5,"v":4.0},
{"p":8,"y":264,"y2":318.8,"v":2.5},{"p":8,"y":-318.8,"y2":-264,"v":2.5},
{"p":8,"y":318.8,"y2":386.4,"v":1.2},{"p":8,"y":-386.4,"y2":-318.8,"v":1.2},
{"p":8,"y":386.4,"y2":466.9,"v":0.6},{"p":8,"y":-466.9,"y2":-386.4,"v":0.6},
{"p":8,"y":466.9,"y2":563.5,"v":0.2},{"p":8,"y":-563.5,"y2":-466.9,"v":0.2},
{"p":9,"y":-4.45,"y2":4.45,"v":69.7},
{"p":9,"y":4.45,"y2":11.97,"v":65.7},{"p":9,"y":-11.97,"y2":-4.45,"v":65.7},
{"p":9,"y":11.97,"y2":20.52,"v":56.1},{"p":9,"y":-20.52,"y2":-11.97,"v":56.1},
{"p":9,"y":20.52,"y2":29.93,"v":43.3},{"p":9,"y":-29.93,"y2":-20.52,"v":43.3},
{"p":9,"y":29.93,"y2":38.48,"v":32.1},{"p":9,"y":-38.48,"y2":-29.93,"v":32.1},
{"p":9,"y":38.48,"y2":51.3,"v":23.8},{"p":9,"y":-51.3,"y2":-38.48,"v":23.8},
{"p":9,"y":51.3,"y2":64.98,"v":19.4},{"p":9,"y":-64.98,"y2":-51.3,"v":19.4},
{"p":9,"y":64.98,"y2":83.79,"v":17.5},{"p":9,"y":-83.79,"y2":-64.98,"v":17.5},
{"p":9,"y":83.79,"y2":107.7,"v":16.5},{"p":9,"y":-107.7,"y2":-83.79,"v":16.5},
{"p":9,"y":107.7,"y2":136.8,"v":15.1},{"p":9,"y":-136.8,"y2":-107.7,"v":15.1},
{"p":9,"y":136.8,"y2":179.6,"v":12.6},{"p":9,"y":-179.6,"y2":-136.8,"v":12.6},
{"p":9,"y":179.6,"y2":225.7,"v":9.6},{"p":9,"y":-225.7,"y2":-179.6,"v":9.6},
{"p":9,"y":225.7,"y2":280.4,"v":6.5},{"p":9,"y":-280.4,"y2":-225.7,"v":6.5},
{"p":9,"y":280.4,"y2":338.6,"v":4.1},{"p":9,"y":-338.6,"y2":-280.4,"v":4.1},
{"p":9,"y":338.6,"y2":410.4,"v":2.0},{"p":9,"y":-410.4,"y2":-338.6,"v":2.0},
{"p":9,"y":410.4,"y2":495.9,"v":0.9},{"p":9,"y":-495.9,"y2":-410.4,"v":0.9},
{"p":9,"y":495.9,"y2":598.5,"v":0.4},{"p":9,"y":-598.5,"y2":-495.9,"v":0.4},
{"p":10,"y":-0.0322,"y2":0.0322,"v":56},
{"p":10,"y":0.0322,"y2":0.0868,"v":52.2},{"p":10,"y":-0.0868,"y2":-0.0322,"v":52.2},
{"p":10,"y":0.0868,"y2":0.1488,"v":43.3},{"p":10,"y":-0.1488,"y2":-0.0868,"v":43.3},
{"p":10,"y":0.1488,"y2":0.217,"v":31.5},{"p":10,"y":-0.217,"y2":-0.1488,"v":31.5},
{"p":10,"y":0.217,"y2":0.279,"v":21.0},{"p":10,"y":-0.279,"y2":-0.217,"v":21.0},
{"p":10,"y":0.279,"y2":0.372,"v":13.4},{"p":10,"y":-0.372,"y2":-0.279,"v":13.4},
{"p":10,"y":0.372,"y2":0.4712,"v":9.5},{"p":10,"y":-0.4712,"y2":-0.372,"v":9.5},
{"p":10,"y":0.4712,"y2":0.6076,"v":8.2},{"p":10,"y":-0.6076,"y2":-0.4712,"v":8.2},
{"p":10,"y":0.6076,"y2":0.7812,"v":7.7},{"p":10,"y":-0.7812,"y2":-0.6076,"v":7.7},
{"p":10,"y":0.7812,"y2":0.992,"v":7.0},{"p":10,"y":-0.992,"y2":-0.7812,"v":7.0},
{"p":10,"y":0.992,"y2":1.302,"v":5.9},{"p":10,"y":-1.302,"y2":-0.992,"v":5.9},
{"p":10,"y":1.302,"y2":1.637,"v":4.5},{"p":10,"y":-1.637,"y2":-1.302,"v":4.5},
{"p":10,"y":1.637,"y2":2.034,"v":3.0},{"p":10,"y":-2.034,"y2":-1.637,"v":3.0},
{"p":10,"y":2.034,"y2":2.455,"v":1.9},{"p":10,"y":-2.455,"y2":-2.034,"v":1.9},
{"p":10,"y":2.455,"y2":2.976,"v":1.0},{"p":10,"y":-2.976,"y2":-2.455,"v":1.0},
{"p":10,"y":2.976,"y2":3.596,"v":0.4},{"p":10,"y":-3.596,"y2":-2.976,"v":0.4},
{"p":10,"y":3.596,"y2":4.34,"v":0.2},{"p":10,"y":-4.34,"y2":-3.596,"v":0.2},
{"p":11,"y":-0.0434,"y2":0.0434,"v":91},
{"p":11,"y":0.0434,"y2":0.1169,"v":85.1},{"p":11,"y":-0.1169,"y2":-0.0434,"v":85.1},
{"p":11,"y":0.1169,"y2":0.2004,"v":71.0},{"p":11,"y":-0.2004,"y2":-0.1169,"v":71.0},
{"p":11,"y":0.2004,"y2":0.2923,"v":52.3},{"p":11,"y":-0.2923,"y2":-0.2004,"v":52.3},
{"p":11,"y":0.2923,"y2":0.3758,"v":35.8},{"p":11,"y":-0.3758,"y2":-0.2923,"v":35.8},
{"p":11,"y":0.3758,"y2":0.501,"v":23.9},{"p":11,"y":-0.501,"y2":-0.3758,"v":23.9},
{"p":11,"y":0.501,"y2":0.6346,"v":17.6},{"p":11,"y":-0.6346,"y2":-0.501,"v":17.6},
{"p":11,"y":0.6346,"y2":0.8183,"v":15.4},{"p":11,"y":-0.8183,"y2":-0.6346,"v":15.4},
{"p":11,"y":0.8183,"y2":1.052,"v":14.5},{"p":11,"y":-1.052,"y2":-0.8183,"v":14.5},
{"p":11,"y":1.052,"y2":1.336,"v":13.2},{"p":11,"y":-1.336,"y2":-1.052,"v":13.2},
{"p":11,"y":1.336,"y2":1.754,"v":11.1},{"p":11,"y":-1.754,"y2":-1.336,"v":11.1},
{"p":11,"y":1.754,"y2":2.204,"v":8.4},{"p":11,"y":-2.204,"y2":-1.754,"v":8.4},
{"p":11,"y":2.204,"y2":2.739,"v":5.7},{"p":11,"y":-2.739,"y2":-2.204,"v":5.7},
{"p":11,"y":2.739,"y2":3.307,"v":3.6},{"p":11,"y":-3.307,"y2":-2.739,"v":3.6},
{"p":11,"y":3.307,"y2":4.008,"v":1.8},{"p":11,"y":-4.008,"y2":-3.307,"v":1.8},
{"p":11,"y":4.008,"y2":4.843,"v":0.8},{"p":11,"y":-4.843,"y2":-4.008,"v":0.8},
{"p":11,"y":4.843,"y2":5.845,"v":0.4},{"p":11,"y":-5.845,"y2":-4.843,"v":0.4},
{"p":12,"y":-0.00702,"y2":0.00702,"v":59.7},
{"p":12,"y":0.00702,"y2":0.0189,"v":55.7},{"p":12,"y":-0.0189,"y2":-0.00702,"v":55.7},
{"p":12,"y":0.0189,"y2":0.0324,"v":46.3},{"p":12,"y":-0.0324,"y2":-0.0189,"v":46.3},
{"p":12,"y":0.0324,"y2":0.04725,"v":33.7},{"p":12,"y":-0.04725,"y2":-0.0324,"v":33.7},
{"p":12,"y":0.04725,"y2":0.06075,"v":22.6},{"p":12,"y":-0.06075,"y2":-0.04725,"v":22.6},
{"p":12,"y":0.06075,"y2":0.081,"v":14.6},{"p":12,"y":-0.081,"y2":-0.06075,"v":14.6},
{"p":12,"y":0.081,"y2":0.1026,"v":10.4},{"p":12,"y":-0.1026,"y2":-0.081,"v":10.4},
{"p":12,"y":0.1026,"y2":0.1323,"v":8.9},{"p":12,"y":-0.1323,"y2":-0.1026,"v":8.9},
{"p":12,"y":0.1323,"y2":0.1701,"v":8.4},{"p":12,"y":-0.1701,"y2":-0.1323,"v":8.4},
{"p":12,"y":0.1701,"y2":0.216,"v":7.7},{"p":12,"y":-0.216,"y2":-0.1701,"v":7.7},
{"p":12,"y":0.216,"y2":0.2835,"v":6.4},{"p":12,"y":-0.2835,"y2":-0.216,"v":6.4},
{"p":12,"y":0.2835,"y2":0.3564,"v":4.9},{"p":12,"y":-0.3564,"y2":-0.2835,"v":4.9},
{"p":12,"y":0.3564,"y2":0.4428,"v":3.3},{"p":12,"y":-0.4428,"y2":-0.3564,"v":3.3},
{"p":12,"y":0.4428,"y2":0.5346,"v":2.1},{"p":12,"y":-0.5346,"y2":-0.4428,"v":2.1},
{"p":12,"y":0.5346,"y2":0.648,"v":1.0},{"p":12,"y":-0.648,"y2":-0.5346,"v":1.0},
{"p":12,"y":0.648,"y2":0.783,"v":0.5},{"p":12,"y":-0.783,"y2":-0.648,"v":0.5},
{"p":12,"y":0.783,"y2":0.945,"v":0.2},{"p":12,"y":-0.945,"y2":-0.783,"v":0.2},
{"p":13,"y":-0.00572,"y2":0.00572,"v":51},
{"p":13,"y":0.00572,"y2":0.0154,"v":47.8},{"p":13,"y":-0.0154,"y2":-0.00572,"v":47.8},
{"p":13,"y":0.0154,"y2":0.0264,"v":40.0},{"p":13,"y":-0.0264,"y2":-0.0154,"v":40.0},
{"p":13,"y":0.0264,"y2":0.0385,"v":29.7},{"p":13,"y":-0.0385,"y2":-0.0264,"v":29.7},
{"p":13,"y":0.0385,"y2":0.0495,"v":20.7},{"p":13,"y":-0.0495,"y2":-0.0385,"v":20.7},
{"p":13,"y":0.0495,"y2":0.066,"v":14.1},{"p":13,"y":-0.066,"y2":-0.0495,"v":14.1},
{"p":13,"y":0.066,"y2":0.0836,"v":10.6},{"p":13,"y":-0.0836,"y2":-0.066,"v":10.6},
{"p":13,"y":0.0836,"y2":0.1078,"v":9.4},{"p":13,"y":-0.1078,"y2":-0.0836,"v":9.4},
{"p":13,"y":0.1078,"y2":0.1386,"v":8.8},{"p":13,"y":-0.1386,"y2":-0.1078,"v":8.8},
{"p":13,"y":0.1386,"y2":0.176,"v":8.1},{"p":13,"y":-0.176,"y2":-0.1386,"v":8.1},
{"p":13,"y":0.176,"y2":0.231,"v":6.8},{"p":13,"y":-0.231,"y2":-0.176,"v":6.8},
{"p":13,"y":0.231,"y2":0.2904,"v":5.1},{"p":13,"y":-0.2904,"y2":-0.231,"v":5.1},
{"p":13,"y":0.2904,"y2":0.3608,"v":3.5},{"p":13,"y":-0.3608,"y2":-0.2904,"v":3.5},
{"p":13,"y":0.3608,"y2":0.4356,"v":2.2},{"p":13,"y":-0.4356,"y2":-0.3608,"v":2.2},
{"p":13,"y":0.4356,"y2":0.528,"v":1.1},{"p":13,"y":-0.528,"y2":-0.4356,"v":1.1},
{"p":13,"y":0.528,"y2":0.638,"v":0.5},{"p":13,"y":-0.638,"y2":-0.528,"v":0.5},
{"p":13,"y":0.638,"y2":0.77,"v":0.2},{"p":13,"y":-0.77,"y2":-0.638,"v":0.2},
{"p":14,"y":-0.00624,"y2":0.00624,"v":95.5},
{"p":14,"y":0.00624,"y2":0.0168,"v":89.4},{"p":14,"y":-0.0168,"y2":-0.00624,"v":89.4},
{"p":14,"y":0.0168,"y2":0.0288,"v":75.0},{"p":14,"y":-0.0288,"y2":-0.0168,"v":75.0},
{"p":14,"y":0.0288,"y2":0.042,"v":55.7},{"p":14,"y":-0.042,"y2":-0.0288,"v":55.7},
{"p":14,"y":0.042,"y2":0.054,"v":38.8},{"p":14,"y":-0.054,"y2":-0.042,"v":38.8},
{"p":14,"y":0.054,"y2":0.072,"v":26.4},{"p":14,"y":-0.072,"y2":-0.054,"v":26.4},
{"p":14,"y":0.072,"y2":0.0912,"v":19.9},{"p":14,"y":-0.0912,"y2":-0.072,"v":19.9},
{"p":14,"y":0.0912,"y2":0.1176,"v":17.5},{"p":14,"y":-0.1176,"y2":-0.0912,"v":17.5},
{"p":14,"y":0.1176,"y2":0.1512,"v":16.5},{"p":14,"y":-0.1512,"y2":-0.1176,"v":16.5},
{"p":14,"y":0.1512,"y2":0.192,"v":15.1},{"p":14,"y":-0.192,"y2":-0.1512,"v":15.1},
{"p":14,"y":0.192,"y2":0.252,"v":12.6},{"p":14,"y":-0.252,"y2":-0.192,"v":12.6},
{"p":14,"y":0.252,"y2":0.3168,"v":9.6},{"p":14,"y":-0.3168,"y2":-0.252,"v":9.6},
{"p":14,"y":0.3168,"y2":0.3936,"v":6.5},{"p":14,"y":-0.3936,"y2":-0.3168,"v":6.5},
{"p":14,"y":0.3936,"y2":0.4752,"v":4.1},{"p":14,"y":-0.4752,"y2":-0.3936,"v":4.1},
{"p":14,"y":0.4752,"y2":0.576,"v":2.0},{"p":14,"y":-0.576,"y2":-0.4752,"v":2.0},
{"p":14,"y":0.576,"y2":0.696,"v":0.9},{"p":14,"y":-0.696,"y2":-0.576,"v":0.9},
{"p":14,"y":0.696,"y2":0.84,"v":0.4},{"p":14,"y":-0.84,"y2":-0.696,"v":0.4},
{"p":15,"y":-4.84,"y2":4.84,"v":71.6},
{"p":15,"y":4.84,"y2":13.02,"v":66.9},{"p":15,"y":-13.02,"y2":-4.84,"v":66.9},
{"p":15,"y":13.02,"y2":22.32,"v":55.8},{"p":15,"y":-22.32,"y2":-13.02,"v":55.8},
{"p":15,"y":22.32,"y2":32.55,"v":41.1},{"p":15,"y":-32.55,"y2":-22.32,"v":41.1},
{"p":15,"y":32.55,"y2":41.85,"v":28.1},{"p":15,"y":-41.85,"y2":-32.55,"v":28.1},
{"p":15,"y":41.85,"y2":55.8,"v":18.6},{"p":15,"y":-55.8,"y2":-41.85,"v":18.6},
{"p":15,"y":55.8,"y2":70.68,"v":13.7},{"p":15,"y":-70.68,"y2":-55.8,"v":13.7},
{"p":15,"y":70.68,"y2":91.14,"v":12.0},{"p":15,"y":-91.14,"y2":-70.68,"v":12.0},
{"p":15,"y":91.14,"y2":117.2,"v":11.3},{"p":15,"y":-117.2,"y2":-91.14,"v":11.3},
{"p":15,"y":117.2,"y2":148.8,"v":10.3},{"p":15,"y":-148.8,"y2":-117.2,"v":10.3},
{"p":15,"y":148.8,"y2":195.3,"v":8.6},{"p":15,"y":-195.3,"y2":-148.8,"v":8.6},
{"p":15,"y":195.3,"y2":245.5,"v":6.5},{"p":15,"y":-245.5,"y2":-195.3,"v":6.5},
{"p":15,"y":245.5,"y2":305,"v":4.4},{"p":15,"y":-305,"y2":-245.5,"v":4.4},
{"p":15,"y":305,"y2":368.3,"v":2.8},{"p":15,"y":-368.3,"y2":-305,"v":2.8},
{"p":15,"y":368.3,"y2":446.4,"v":1.4},{"p":15,"y":-446.4,"y2":-368.3,"v":1.4},
{"p":15,"y":446.4,"y2":539.4,"v":0.6},{"p":15,"y":-539.4,"y2":-446.4,"v":0.6},
{"p":15,"y":539.4,"y2":651,"v":0.3},{"p":15,"y":-651,"y2":-539.4,"v":0.3},
{"p":16,"y":-5.15,"y2":5.15,"v":94.5},
{"p":16,"y":5.15,"y2":13.86,"v":89.1},{"p":16,"y":-13.86,"y2":-5.15,"v":89.1},
{"p":16,"y":13.86,"y2":23.76,"v":76.2},{"p":16,"y":-23.76,"y2":-13.86,"v":76.2},
{"p":16,"y":23.76,"y2":34.65,"v":58.9},{"p":16,"y":-34.65,"y2":-23.76,"v":58.9},
{"p":16,"y":34.65,"y2":44.55,"v":43.7},{"p":16,"y":-44.55,"y2":-34.65,"v":43.7},
{"p":16,"y":44.55,"y2":59.4,"v":32.6},{"p":16,"y":-59.4,"y2":-44.55,"v":32.6},
{"p":16,"y":59.4,"y2":75.24,"v":26.6},{"p":16,"y":-75.24,"y2":-59.4,"v":26.6},
{"p":16,"y":75.24,"y2":97.02,"v":24.1},{"p":16,"y":-97.02,"y2":-75.24,"v":24.1},
{"p":16,"y":97.02,"y2":124.7,"v":22.7},{"p":16,"y":-124.7,"y2":-97.02,"v":22.7},
{"p":16,"y":124.7,"y2":158.4,"v":20.7},{"p":16,"y":-158.4,"y2":-124.7,"v":20.7},
{"p":16,"y":158.4,"y2":207.9,"v":17.4},{"p":16,"y":-207.9,"y2":-158.4,"v":17.4},
{"p":16,"y":207.9,"y2":261.4,"v":13.2},{"p":16,"y":-261.4,"y2":-207.9,"v":13.2},
{"p":16,"y":261.4,"y2":324.7,"v":9.0},{"p":16,"y":-324.7,"y2":-261.4,"v":9.0},
{"p":16,"y":324.7,"y2":392,"v":5.6},{"p":16,"y":-392,"y2":-324.7,"v":5.6},
{"p":16,"y":392,"y2":475.2,"v":2.8},{"p":16,"y":-475.2,"y2":-392,"v":2.8},
{"p":16,"y":475.2,"y2":574.2,"v":1.3},{"p":16,"y":-574.2,"y2":-475.2,"v":1.3},
{"p":16,"y":574.2,"y2":693,"v":0.6},{"p":16,"y":-693,"y2":-574.2,"v":0.6},
{"p":17,"y":-0.0478,"y2":0.0478,"v":56.7},
{"p":17,"y":0.0478,"y2":0.1288,"v":53.3},{"p":17,"y":-0.1288,"y2":-0.0478,"v":53.3},
{"p":17,"y":0.1288,"y2":0.2208,"v":45.1},{"p":17,"y":-0.2208,"y2":-0.1288,"v":45.1},
{"p":17,"y":0.2208,"y2":0.322,"v":34.1},{"p":17,"y":-0.322,"y2":-0.2208,"v":34.1},
{"p":17,"y":0.322,"y2":0.414,"v":24.6},{"p":17,"y":-0.414,"y2":-0.322,"v":24.6},
{"p":17,"y":0.414,"y2":0.552,"v":17.5},{"p":17,"y":-0.552,"y2":-0.414,"v":17.5},
{"p":17,"y":0.552,"y2":0.6992,"v":13.9},{"p":17,"y":-0.6992,"y2":-0.552,"v":13.9},
{"p":17,"y":0.6992,"y2":0.9016,"v":12.4},{"p":17,"y":-0.9016,"y2":-0.6992,"v":12.4},
{"p":17,"y":0.9016,"y2":1.159,"v":11.7},{"p":17,"y":-1.159,"y2":-0.9016,"v":11.7},
{"p":17,"y":1.159,"y2":1.472,"v":10.7},{"p":17,"y":-1.472,"y2":-1.159,"v":10.7},
{"p":17,"y":1.472,"y2":1.932,"v":8.9},{"p":17,"y":-1.932,"y2":-1.472,"v":8.9},
{"p":17,"y":1.932,"y2":2.429,"v":6.8},{"p":17,"y":-2.429,"y2":-1.932,"v":6.8},
{"p":17,"y":2.429,"y2":3.018,"v":4.6},{"p":17,"y":-3.018,"y2":-2.429,"v":4.6},
{"p":17,"y":3.018,"y2":3.643,"v":2.9},{"p":17,"y":-3.643,"y2":-3.018,"v":2.9},
{"p":17,"y":3.643,"y2":4.416,"v":1.4},{"p":17,"y":-4.416,"y2":-3.643,"v":1.4},
{"p":17,"y":4.416,"y2":5.336,"v":0.6},{"p":17,"y":-5.336,"y2":-4.416,"v":0.6},
{"p":17,"y":5.336,"y2":6.44,"v":0.3},{"p":17,"y":-6.44,"y2":-5.336,"v":0.3},
{"p":18,"y":-0.0593,"y2":0.0593,"v":68},
{"p":18,"y":0.0593,"y2":0.1596,"v":63.6},{"p":18,"y":-0.1596,"y2":-0.0593,"v":63.6},
{"p":18,"y":0.1596,"y2":0.2736,"v":53.1},{"p":18,"y":-0.2736,"y2":-0.1596,"v":53.1},
{"p":18,"y":0.2736,"y2":0.399,"v":39.1},{"p":18,"y":-0.399,"y2":-0.2736,"v":39.1},
{"p":18,"y":0.399,"y2":0.513,"v":26.9},{"p":18,"y":-0.513,"y2":-0.399,"v":26.9},
{"p":18,"y":0.513,"y2":0.684,"v":17.8},{"p":18,"y":-0.684,"y2":-0.513,"v":17.8},
{"p":18,"y":0.684,"y2":0.8664,"v":13.2},{"p":18,"y":-0.8664,"y2":-0.684,"v":13.2},
{"p":18,"y":0.8664,"y2":1.117,"v":11.5},{"p":18,"y":-1.117,"y2":-0.8664,"v":11.5},
{"p":18,"y":1.117,"y2":1.436,"v":10.9},{"p":18,"y":-1.436,"y2":-1.117,"v":10.9},
{"p":18,"y":1.436,"y2":1.824,"v":9.9},{"p":18,"y":-1.824,"y2":-1.436,"v":9.9},
{"p":18,"y":1.824,"y2":2.394,"v":8.3},{"p":18,"y":-2.394,"y2":-1.824,"v":8.3},
{"p":18,"y":2.394,"y2":3.01,"v":6.3},{"p":18,"y":-3.01,"y2":-2.394,"v":6.3},
{"p":18,"y":3.01,"y2":3.739,"v":4.3},{"p":18,"y":-3.739,"y2":-3.01,"v":4.3},
{"p":18,"y":3.739,"y2":4.514,"v":2.7},{"p":18,"y":-4.514,"y2":-3.739,"v":2.7},
{"p":18,"y":4.514,"y2":5.472,"v":1.3},{"p":18,"y":-5.472,"y2":-4.514,"v":1.3},
{"p":18,"y":5.472,"y2":6.612,"v":0.6},{"p":18,"y":-6.612,"y2":-5.472,"v":0.6},
{"p":18,"y":6.612,"y2":7.98,"v":0.3},{"p":18,"y":-7.98,"y2":-6.612,"v":0.3},
{"p":19,"y":-0.00702,"y2":0.00702,"v":65},
{"p":19,"y":0.00702,"y2":0.0189,"v":60.7},{"p":19,"y":-0.0189,"y2":-0.00702,"v":60.7},
{"p":19,"y":0.0189,"y2":0.0324,"v":50.6},{"p":19,"y":-0.0324,"y2":-0.0189,"v":50.6},
{"p":19,"y":0.0324,"y2":0.04725,"v":37.2},{"p":19,"y":-0.04725,"y2":-0.0324,"v":37.2},
{"p":19,"y":0.04725,"y2":0.06075,"v":25.3},{"p":19,"y":-0.06075,"y2":-0.04725,"v":25.3},
{"p":19,"y":0.06075,"y2":0.081,"v":16.7},{"p":19,"y":-0.081,"y2":-0.06075,"v":16.7},
{"p":19,"y":0.081,"y2":0.1026,"v":12.3},{"p":19,"y":-0.1026,"y2":-0.081,"v":12.3},
{"p":19,"y":0.1026,"y2":0.1323,"v":10.7},{"p":19,"y":-0.1323,"y2":-0.1026,"v":10.7},
{"p":19,"y":0.1323,"y2":0.1701,"v":10.0},{"p":19,"y":-0.1701,"y2":-0.1323,"v":10.0},
{"p":19,"y":0.1701,"y2":0.216,"v":9.2},{"p":19,"y":-0.216,"y2":-0.1701,"v":9.2},
{"p":19,"y":0.216,"y2":0.2835,"v":7.7},{"p":19,"y":-0.2835,"y2":-0.216,"v":7.7},
{"p":19,"y":0.2835,"y2":0.3564,"v":5.8},{"p":19,"y":-0.3564,"y2":-0.2835,"v":5.8},
{"p":19,"y":0.3564,"y2":0.4428,"v":4.0},{"p":19,"y":-0.4428,"y2":-0.3564,"v":4.0},
{"p":19,"y":0.4428,"y2":0.5346,"v":2.5},{"p":19,"y":-0.5346,"y2":-0.4428,"v":2.5},
{"p":19,"y":0.5346,"y2":0.648,"v":1.2},{"p":19,"y":-0.648,"y2":-0.5346,"v":1.2},
{"p":19,"y":0.648,"y2":0.783,"v":0.6},{"p":19,"y":-0.783,"y2":-0.648,"v":0.6},
{"p":19,"y":0.783,"y2":0.945,"v":0.2},{"p":19,"y":-0.945,"y2":-0.783,"v":0.2},
{"p":20,"y":-0.00598,"y2":0.00598,"v":76},
{"p":20,"y":0.00598,"y2":0.0161,"v":71.2},{"p":20,"y":-0.0161,"y2":-0.00598,"v":71.2},
{"p":20,"y":0.0161,"y2":0.0276,"v":59.8},{"p":20,"y":-0.0276,"y2":-0.0161,"v":59.8},
{"p":20,"y":0.0276,"y2":0.04025,"v":44.7},{"p":20,"y":-0.04025,"y2":-0.0276,"v":44.7},
{"p":20,"y":0.04025,"y2":0.05175,"v":31.3},{"p":20,"y":-0.05175,"y2":-0.04025,"v":31.3},
{"p":20,"y":0.05175,"y2":0.069,"v":21.6},{"p":20,"y":-0.069,"y2":-0.05175,"v":21.6},
{"p":20,"y":0.069,"y2":0.0874,"v":16.4},{"p":20,"y":-0.0874,"y2":-0.069,"v":16.4},
{"p":20,"y":0.0874,"y2":0.1127,"v":14.5},{"p":20,"y":-0.1127,"y2":-0.0874,"v":14.5},
{"p":20,"y":0.1127,"y2":0.1449,"v":13.7},{"p":20,"y":-0.1449,"y2":-0.1127,"v":13.7},
{"p":20,"y":0.1449,"y2":0.184,"v":12.5},{"p":20,"y":-0.184,"y2":-0.1449,"v":12.5},
{"p":20,"y":0.184,"y2":0.2415,"v":10.5},{"p":20,"y":-0.2415,"y2":-0.184,"v":10.5},
{"p":20,"y":0.2415,"y2":0.3036,"v":7.9},{"p":20,"y":-0.3036,"y2":-0.2415,"v":7.9},
{"p":20,"y":0.3036,"y2":0.3772,"v":5.4},{"p":20,"y":-0.3772,"y2":-0.3036,"v":5.4},
{"p":20,"y":0.3772,"y2":0.4554,"v":3.4},{"p":20,"y":-0.4554,"y2":-0.3772,"v":3.4},
{"p":20,"y":0.4554,"y2":0.552,"v":1.7},{"p":20,"y":-0.552,"y2":-0.4554,"v":1.7},
{"p":20,"y":0.552,"y2":0.667,"v":0.8},{"p":20,"y":-0.667,"y2":-0.552,"v":0.8},
{"p":20,"y":0.667,"y2":0.805,"v":0.3},{"p":20,"y":-0.805,"y2":-0.667,"v":0.3},
{"p":21,"y":-0.00676,"y2":0.00676,"v":81},
{"p":21,"y":0.00676,"y2":0.0182,"v":75.9},{"p":21,"y":-0.0182,"y2":-0.00676,"v":75.9},
{"p":21,"y":0.0182,"y2":0.0312,"v":63.7},{"p":21,"y":-0.0312,"y2":-0.0182,"v":63.7},
{"p":21,"y":0.0312,"y2":0.0455,"v":47.6},{"p":21,"y":-0.0455,"y2":-0.0312,"v":47.6},
{"p":21,"y":0.0455,"y2":0.0585,"v":33.3},{"p":21,"y":-0.0585,"y2":-0.0455,"v":33.3},
{"p":21,"y":0.0585,"y2":0.078,"v":23.0},{"p":21,"y":-0.078,"y2":-0.0585,"v":23.0},
{"p":21,"y":0.078,"y2":0.0988,"v":17.5},{"p":21,"y":-0.0988,"y2":-0.078,"v":17.5},
{"p":21,"y":0.0988,"y2":0.1274,"v":15.5},{"p":21,"y":-0.1274,"y2":-0.0988,"v":15.5},
{"p":21,"y":0.1274,"y2":0.1638,"v":14.6},{"p":21,"y":-0.1638,"y2":-0.1274,"v":14.6},
{"p":21,"y":0.1638,"y2":0.208,"v":13.3},{"p":21,"y":-0.208,"y2":-0.1638,"v":13.3},
{"p":21,"y":0.208,"y2":0.273,"v":11.2},{"p":21,"y":-0.273,"y2":-0.208,"v":11.2},
{"p":21,"y":0.273,"y2":0.3432,"v":8.5},{"p":21,"y":-0.3432,"y2":-0.273,"v":8.5},
{"p":21,"y":0.3432,"y2":0.4264,"v":5.8},{"p":21,"y":-0.4264,"y2":-0.3432,"v":5.8},
{"p":21,"y":0.4264,"y2":0.5148,"v":3.6},{"p":21,"y":-0.5148,"y2":-0.4264,"v":3.6},
{"p":21,"y":0.5148,"y2":0.624,"v":1.8},{"p":21,"y":-0.624,"y2":-0.5148,"v":1.8},
{"p":21,"y":0.624,"y2":0.754,"v":0.8},{"p":21,"y":-0.754,"y2":-0.624,"v":0.8},
{"p":21,"y":0.754,"y2":0.91,"v":0.4},{"p":21,"y":-0.91,"y2":-0.754,"v":0.4}
],
"g": [
{"p":1,"y":-405,"v":0.19},{"p":1,"y":-337.5,"v":0.74},{"p":1,"y":-270,"v":2.29},{"p":1,"y":-202.5,"v":5.49},{"p":1,"y":-135,"v":10.25},{"p":1,"y":-67.5,"v":14.91},{"p":1,"y":0,"v":16.9},{"p":1,"y":67.5,"v":14.91},{"p":1,"y":135,"v":10.25},{"p":1,"y":202.5,"v":5.49},{"p":1,"y":270,"v":2.29},{"p":1,"y":337.5,"v":0.74},{"p":1,"y":405,"v":0.19},
{"p":2,"y":-423,"v":0.28},{"p":2,"y":-352.5,"v":1.09},{"p":2,"y":-282,"v":3.37},{"p":2,"y":-211.5,"v":8.09},{"p":2,"y":-141,"v":15.1},{"p":2,"y":-70.5,"v":21.97},{"p":2,"y":0,"v":24.9},{"p":2,"y":70.5,"v":21.97},{"p":2,"y":141,"v":15.1},{"p":2,"y":211.5,"v":8.09},{"p":2,"y":282,"v":3.37},{"p":2,"y":352.5,"v":1.09},{"p":2,"y":423,"v":0.28},
{"p":3,"y":-1.65,"v":0.13},{"p":3,"y":-1.375,"v":0.5},{"p":3,"y":-1.1,"v":1.54},{"p":3,"y":-0.825,"v":3.7},{"p":3,"y":-0.55,"v":6.91},{"p":3,"y":-0.275,"v":10.06},{"p":3,"y":0,"v":11.4},{"p":3,"y":0.275,"v":10.06},{"p":3,"y":0.55,"v":6.91},{"p":3,"y":0.825,"v":3.7},{"p":3,"y":1.1,"v":1.54},{"p":3,"y":1.375,"v":0.5},{"p":3,"y":1.65,"v":0.13},
{"p":4,"y":-3.27,"v":0.15},{"p":4,"y":-2.725,"v":0.61},{"p":4,"y":-2.18,"v":1.88},{"p":4,"y":-1.635,"v":4.51},{"p":4,"y":-1.09,"v":8.43},{"p":4,"y":-0.545,"v":12.27},{"p":4,"y":0,"v":13.9},{"p":4,"y":0.545,"v":12.27},{"p":4,"y":1.09,"v":8.43},{"p":4,"y":1.635,"v":4.51},{"p":4,"y":2.18,"v":1.88},{"p":4,"y":2.725,"v":0.61},{"p":4,"y":3.27,"v":0.15},
{"p":5,"y":-0.63,"v":0.18},{"p":5,"y":-0.525,"v":0.72},{"p":5,"y":-0.42,"v":2.22},{"p":5,"y":-0.315,"v":5.33},{"p":5,"y":-0.21,"v":9.95},{"p":5,"y":-0.105,"v":14.47},{"p":5,"y":0,"v":16.4},{"p":5,"y":0.105,"v":14.47},{"p":5,"y":0.21,"v":9.95},{"p":5,"y":0.315,"v":5.33},{"p":5,"y":0.42,"v":2.22},{"p":5,"y":0.525,"v":0.72},{"p":5,"y":0.63,"v":0.18},
{"p":6,"y":-0.6,"v":0.2},{"p":6,"y":-0.5,"v":0.8},{"p":6,"y":-0.4,"v":2.48},{"p":6,"y":-0.3,"v":5.94},{"p":6,"y":-0.2,"v":11.1},{"p":6,"y":-0.1,"v":16.15},{"p":6,"y":0,"v":18.3},{"p":6,"y":0.1,"v":16.15},{"p":6,"y":0.2,"v":11.1},{"p":6,"y":0.3,"v":5.94},{"p":6,"y":0.4,"v":2.48},{"p":6,"y":0.5,"v":0.8},{"p":6,"y":0.6,"v":0.2},
{"p":7,"y":-0.57,"v":0.17},{"p":7,"y":-0.475,"v":0.65},{"p":7,"y":-0.38,"v":2.02},{"p":7,"y":-0.285,"v":4.84},{"p":7,"y":-0.19,"v":9.04},{"p":7,"y":-0.095,"v":13.15},{"p":7,"y":0,"v":14.9},{"p":7,"y":0.095,"v":13.15},{"p":7,"y":0.19,"v":9.04},{"p":7,"y":0.285,"v":4.84},{"p":7,"y":0.38,"v":2.02},{"p":7,"y":0.475,"v":0.65},{"p":7,"y":0.57,"v":0.17},
{"p":8,"y":-483,"v":0.14},{"p":8,"y":-402.5,"v":0.54},{"p":8,"y":-322,"v":1.68},{"p":8,"y":-241.5,"v":4.03},{"p":8,"y":-161,"v":7.52},{"p":8,"y":-80.5,"v":10.94},{"p":8,"y":0,"v":12.4},{"p":8,"y":80.5,"v":10.94},{"p":8,"y":161,"v":7.52},{"p":8,"y":241.5,"v":4.03},{"p":8,"y":322,"v":1.68},{"p":8,"y":402.5,"v":0.54},{"p":8,"y":483,"v":0.14},
{"p":9,"y":-513,"v":0.23},{"p":9,"y":-427.5,"v":0.9},{"p":9,"y":-342,"v":2.76},{"p":9,"y":-256.5,"v":6.62},{"p":9,"y":-171,"v":12.37},{"p":9,"y":-85.5,"v":18.0},{"p":9,"y":0,"v":20.4},{"p":9,"y":85.5,"v":18.0},{"p":9,"y":171,"v":12.37},{"p":9,"y":256.5,"v":6.62},{"p":9,"y":342,"v":2.76},{"p":9,"y":427.5,"v":0.9},{"p":9,"y":513,"v":0.23},
{"p":10,"y":-3.72,"v":0.11},{"p":10,"y":-3.1,"v":0.42},{"p":10,"y":-2.48,"v":1.29},{"p":10,"y":-1.86,"v":3.08},{"p":10,"y":-1.24,"v":5.76},{"p":10,"y":-0.62,"v":8.38},{"p":10,"y":0,"v":9.5},{"p":10,"y":0.62,"v":8.38},{"p":10,"y":1.24,"v":5.76},{"p":10,"y":1.86,"v":3.08},{"p":10,"y":2.48,"v":1.29},{"p":10,"y":3.1,"v":0.42},{"p":10,"y":3.72,"v":0.11},
{"p":11,"y":-5.01,"v":0.2},{"p":11,"y":-4.175,"v":0.79},{"p":11,"y":-3.34,"v":2.42},{"p":11,"y":-2.505,"v":5.81},{"p":11,"y":-1.67,"v":10.86},{"p":11,"y":-0.835,"v":15.8},{"p":11,"y":0,"v":17.9},{"p":11,"y":0.835,"v":15.8},{"p":11,"y":1.67,"v":10.86},{"p":11,"y":2.505,"v":5.81},{"p":11,"y":3.34,"v":2.42},{"p":11,"y":4.175,"v":0.79},{"p":11,"y":5.01,"v":0.2},
{"p":12,"y":-0.81,"v":0.12},{"p":12,"y":-0.675,"v":0.46},{"p":12,"y":-0.54,"v":1.41},{"p":12,"y":-0.405,"v":3.38},{"p":12,"y":-0.27,"v":6.31},{"p":12,"y":-0.135,"v":9.18},{"p":12,"y":0,"v":10.4},{"p":12,"y":0.135,"v":9.18},{"p":12,"y":0.27,"v":6.31},{"p":12,"y":0.405,"v":3.38},{"p":12,"y":0.54,"v":1.41},{"p":12,"y":0.675,"v":0.46},{"p":12,"y":0.81,"v":0.12},
{"p":13,"y":-0.66,"v":0.12},{"p":13,"y":-0.55,"v":0.48},{"p":13,"y":-0.44,"v":1.47},{"p":13,"y":-0.33,"v":3.54},{"p":13,"y":-0.22,"v":6.61},{"p":13,"y":-0.11,"v":9.62},{"p":13,"y":0,"v":10.9},{"p":13,"y":0.11,"v":9.62},{"p":13,"y":0.22,"v":6.61},{"p":13,"y":0.33,"v":3.54},{"p":13,"y":0.44,"v":1.47},{"p":13,"y":0.55,"v":0.48},{"p":13,"y":0.66,"v":0.12},
{"p":14,"y":-0.72,"v":0.23},{"p":14,"y":-0.6,"v":0.9},{"p":14,"y":-0.48,"v":2.76},{"p":14,"y":-0.36,"v":6.62},{"p":14,"y":-0.24,"v":12.37},{"p":14,"y":-0.12,"v":18.0},{"p":14,"y":0,"v":20.4},{"p":14,"y":0.12,"v":18.0},{"p":14,"y":0.24,"v":12.37},{"p":14,"y":0.36,"v":6.62},{"p":14,"y":0.48,"v":2.76},{"p":14,"y":0.6,"v":0.9},{"p":14,"y":0.72,"v":0.23},
{"p":15,"y":-558,"v":0.15},{"p":15,"y":-465,"v":0.61},{"p":15,"y":-372,"v":1.88},{"p":15,"y":-279,"v":4.51},{"p":15,"y":-186,"v":8.43},{"p":15,"y":-93,"v":12.27},{"p":15,"y":0,"v":13.9},{"p":15,"y":93,"v":12.27},{"p":15,"y":186,"v":8.43},{"p":15,"y":279,"v":4.51},{"p":15,"y":372,"v":1.88},{"p":15,"y":465,"v":0.61},{"p":15,"y":558,"v":0.15},
{"p":16,"y":-594,"v":0.31},{"p":16,"y":-495,"v":1.23},{"p":16,"y":-396,"v":3.79},{"p":16,"y":-297,"v":9.09},{"p":16,"y":-198,"v":16.98},{"p":16,"y":-99,"v":24.71},{"p":16,"y":0,"v":28.0},{"p":16,"y":99,"v":24.71},{"p":16,"y":198,"v":16.98},{"p":16,"y":297,"v":9.09},{"p":16,"y":396,"v":3.79},{"p":16,"y":495,"v":1.23},{"p":16,"y":594,"v":0.31},
{"p":17,"y":-5.52,"v":0.16},{"p":17,"y":-4.6,"v":0.63},{"p":17,"y":-3.68,"v":1.95},{"p":17,"y":-2.76,"v":4.68},{"p":17,"y":-1.84,"v":8.73},{"p":17,"y":-0.92,"v":12.71},{"p":17,"y":0,"v":14.4},{"p":17,"y":0.92,"v":12.71},{"p":17,"y":1.84,"v":8.73},{"p":17,"y":2.76,"v":4.68},{"p":17,"y":3.68,"v":1.95},{"p":17,"y":4.6,"v":0.63},{"p":17,"y":5.52,"v":0.16},
{"p":18,"y":-6.84,"v":0.15},{"p":18,"y":-5.7,"v":0.59},{"p":18,"y":-4.56,"v":1.81},{"p":18,"y":-3.42,"v":4.35},{"p":18,"y":-2.28,"v":8.13},{"p":18,"y":-1.14,"v":11.83},{"p":18,"y":0,"v":13.4},{"p":18,"y":1.14,"v":11.83},{"p":18,"y":2.28,"v":8.13},{"p":18,"y":3.42,"v":4.35},{"p":18,"y":4.56,"v":1.81},{"p":18,"y":5.7,"v":0.59},{"p":18,"y":6.84,"v":0.15},
{"p":19,"y":-0.81,"v":0.14},{"p":19,"y":-0.675,"v":0.54},{"p":19,"y":-0.54,"v":1.68},{"p":19,"y":-0.405,"v":4.03},{"p":19,"y":-0.27,"v":7.52},{"p":19,"y":-0.135,"v":10.94},{"p":19,"y":0,"v":12.4},{"p":19,"y":0.135,"v":10.94},{"p":19,"y":0.27,"v":7.52},{"p":19,"y":0.405,"v":4.03},{"p":19,"y":0.54,"v":1.68},{"p":19,"y":0.675,"v":0.54},{"p":19,"y":0.81,"v":0.14},
{"p":20,"y":-0.69,"v":0.19},{"p":20,"y":-0.575,"v":0.74},{"p":20,"y":-0.46,"v":2.29},{"p":20,"y":-0.345,"v":5.49},{"p":20,"y":-0.23,"v":10.25},{"p":20,"y":-0.115,"v":14.91},{"p":20,"y":0,"v":16.9},{"p":20,"y":0.115,"v":14.91},{"p":20,"y":0.23,"v":10.25},{"p":20,"y":0.345,"v":5.49},{"p":20,"y":0.46,"v":2.29},{"p":20,"y":0.575,"v":0.74},{"p":20,"y":0.69,"v":0.19},
{"p":21,"y":-0.78,"v":0.2},{"p":21,"y":-0.65,"v":0.79},{"p":21,"y":-0.52,"v":2.44},{"p":21,"y":-0.39,"v":5.84},{"p":21,"y":-0.26,"v":10.92},{"p":21,"y":-0.13,"v":15.89},{"p":21,"y":0,"v":18.0},{"p":21,"y":0.13,"v":15.89},{"p":21,"y":0.26,"v":10.92},{"p":21,"y":0.39,"v":5.84},{"p":21,"y":0.52,"v":2.44},{"p":21,"y":0.65,"v":0.79},{"p":21,"y":0.78,"v":0.2}
]
},
"config": {
 "view": {"stroke": null},
 "font": "Liberation Sans",
 "bar": {"color": "#0072BD", "stroke": "#0072BD", "strokeWidth": 0.6},
 "line": {"color": "#ff0000", "strokeWidth": 4, "interpolate": "cardinal"},
 "axis": {"grid": false, "domainColor": "#262626", "tickColor": "#262626", "labelColor": "#262626", "titleColor": "#262626",
  "labelFont": "Liberation Sans", "labelFontSize": 21, "titleFont": "Liberation Sans", "titleFontSize": 24, "titleFontWeight": "normal",
  "tickSize": -5, "labelPadding": 18, "titleAngle": 270, "titleAlign": "left", "titleBaseline": "alphabetic", "domainWidth": 1, "tickWidth": 1},
 "axisRight": {"domain": false, "ticks": false, "labels": false, "titleFontSize": 18},
 "axisBottom": {"labels": false, "tickCount": 2},
 "title": {"font": "Liberation Sans", "fontSize": 21, "fontWeight": "normal", "color": "#000000", "anchor": "start", "frame": "group", "dx": 60, "baseline": "top", "lineHeight": 23}
}
}
